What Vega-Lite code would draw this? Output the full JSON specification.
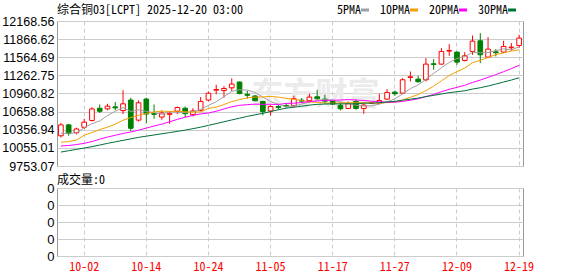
{
 "$schema": "https://vega.github.io/schema/vega-lite/v6.json",
 "background": "white",
 "padding": {"left": 1, "top": 3, "right": 0, "bottom": 0},
 "spacing": 0,
 "config": {
  "view": {"stroke": "#999999", "strokeWidth": 1},
  "axis": {"labelFont": "Liberation Sans", "labelFontSize": 12.5, "labelColor": "#000000", "ticks": false, "domain": false, "gridColor": "#cccccc", "gridWidth": 1, "labelPadding": 3, "labelOverlap": false},
  "title": {"font": "Noto Sans Mono CJK SC, DejaVu Sans Mono", "fontSize": 12, "fontWeight": "normal", "anchor": "start", "frame": "group", "color": "#000000"}
 },
 "datasets": {
  "k": [
   {"d":"09-29","o":10256.7,"h":10466.3,"l":10228.3,"c":10437.9,"5PMA":10297,"10PMA":10150,"20PMA":10085,"30PMA":9985,"vol":0},
   {"d":"09-30","o":10437.9,"h":10455.0,"l":10256.7,"c":10296.3,"5PMA":10300,"10PMA":10160,"20PMA":10095,"30PMA":10008,"vol":0},
   {"d":"10-01","o":10307.6,"h":10392.6,"l":10279.3,"c":10369.9,"5PMA":10305,"10PMA":10186,"20PMA":10110,"30PMA":10030,"vol":0},
   {"d":"10-02","o":10398.3,"h":10539.9,"l":10369.9,"c":10483.3,"5PMA":10390,"10PMA":10265,"20PMA":10130,"30PMA":10052,"vol":0},
   {"d":"10-03","o":10511.6,"h":10732.5,"l":10494.6,"c":10704.2,"5PMA":10458,"10PMA":10310,"20PMA":10160,"30PMA":10075,"vol":0},
   {"d":"10-06","o":10715.5,"h":10777.8,"l":10636.2,"c":10664.5,"5PMA":10504,"10PMA":10360,"20PMA":10200,"30PMA":10102,"vol":0},
   {"d":"10-07","o":10704.2,"h":10789.2,"l":10681.5,"c":10749.5,"5PMA":10594,"10PMA":10400,"20PMA":10235,"30PMA":10130,"vol":0},
   {"d":"10-08","o":10738.2,"h":10817.5,"l":10681.5,"c":10721.2,"5PMA":10665,"10PMA":10450,"20PMA":10265,"30PMA":10155,"vol":0},
   {"d":"10-09","o":10675.9,"h":11015.8,"l":10619.2,"c":10789.2,"5PMA":10726,"10PMA":10515,"20PMA":10295,"30PMA":10180,"vol":0},
   {"d":"10-10","o":10851.5,"h":10891.1,"l":10336.0,"c":10381.3,"5PMA":10661,"10PMA":10560,"20PMA":10320,"30PMA":10205,"vol":0},
   {"d":"10-13","o":10517.3,"h":10845.8,"l":10494.6,"c":10806.2,"5PMA":10689,"10PMA":10597,"20PMA":10350,"30PMA":10230,"vol":0},
   {"d":"10-14","o":10868.5,"h":10891.1,"l":10466.3,"c":10619.2,"5PMA":10663,"10PMA":10629,"20PMA":10385,"30PMA":10250,"vol":0},
   {"d":"10-15","o":10624.9,"h":10777.8,"l":10539.9,"c":10613.6,"5PMA":10642,"10PMA":10653,"20PMA":10420,"30PMA":10270,"vol":0},
   {"d":"10-16","o":10568.2,"h":10675.9,"l":10522.9,"c":10636.2,"5PMA":10611,"10PMA":10669,"20PMA":10450,"30PMA":10290,"vol":0},
   {"d":"10-17","o":10613.6,"h":10647.6,"l":10454.9,"c":10630.6,"5PMA":10661,"10PMA":10661,"20PMA":10490,"30PMA":10310,"vol":0},
   {"d":"10-20","o":10664.5,"h":10743.9,"l":10619.2,"c":10726.9,"5PMA":10645,"10PMA":10667,"20PMA":10530,"30PMA":10330,"vol":0},
   {"d":"10-21","o":10715.5,"h":10743.9,"l":10568.2,"c":10624.9,"5PMA":10646,"10PMA":10655,"20PMA":10565,"30PMA":10350,"vol":0},
   {"d":"10-22","o":10607.9,"h":10715.5,"l":10579.6,"c":10670.2,"5PMA":10658,"10PMA":10650,"20PMA":10595,"30PMA":10375,"vol":0},
   {"d":"10-23","o":10681.5,"h":10902.5,"l":10664.5,"c":10828.8,"5PMA":10696,"10PMA":10654,"20PMA":10620,"30PMA":10400,"vol":0},
   {"d":"10-24","o":10851.5,"h":10993.1,"l":10834.5,"c":10964.8,"5PMA":10763,"10PMA":10712,"20PMA":10636,"30PMA":10430,"vol":0},
   {"d":"10-27","o":11015.8,"h":11106.4,"l":10947.8,"c":11027.1,"5PMA":10823,"10PMA":10734,"20PMA":10665,"30PMA":10460,"vol":0},
   {"d":"10-28","o":11010.1,"h":11083.8,"l":10891.1,"c":11044.1,"5PMA":10907,"10PMA":10777,"20PMA":10703,"30PMA":10490,"vol":0},
   {"d":"10-29","o":11055.4,"h":11214.1,"l":11004.5,"c":11117.7,"5PMA":10997,"10PMA":10827,"20PMA":10740,"30PMA":10520,"vol":0},
   {"d":"10-30","o":11151.7,"h":11160.0,"l":10947.8,"c":10959.1,"5PMA":11023,"10PMA":10859,"20PMA":10764,"30PMA":10550,"vol":0},
   {"d":"10-31","o":10947.8,"h":11004.5,"l":10874.1,"c":10930.8,"5PMA":11016,"10PMA":10889,"20PMA":10775,"30PMA":10580,"vol":0},
   {"d":"11-03","o":10919.5,"h":10936.5,"l":10828.8,"c":10840.2,"5PMA":10978,"10PMA":10901,"20PMA":10784,"30PMA":10605,"vol":0},
   {"d":"11-04","o":10828.8,"h":10840.0,"l":10596.6,"c":10658.9,"5PMA":10901,"10PMA":10904,"20PMA":10780,"30PMA":10630,"vol":0},
   {"d":"11-05","o":10670.2,"h":10766.5,"l":10596.6,"c":10743.9,"5PMA":10827,"10PMA":10912,"20PMA":10781,"30PMA":10660,"vol":0},
   {"d":"11-06","o":10743.9,"h":10789.2,"l":10692.9,"c":10726.9,"5PMA":10780,"10PMA":10901,"20PMA":10778,"30PMA":10690,"vol":0},
   {"d":"11-07","o":10760.8,"h":10800.5,"l":10721.2,"c":10749.5,"5PMA":10744,"10PMA":10880,"20PMA":10796,"30PMA":10717,"vol":0},
   {"d":"11-10","o":10756.6,"h":10923.1,"l":10734.4,"c":10873.1,"5PMA":10751,"10PMA":10864,"20PMA":10799,"30PMA":10732,"vol":0},
   {"d":"11-11","o":10850.9,"h":10884.3,"l":10801.0,"c":10834.3,"5PMA":10786,"10PMA":10843,"20PMA":10810,"30PMA":10750,"vol":0},
   {"d":"11-12","o":10839.9,"h":10956.4,"l":10812.1,"c":10901.0,"5PMA":10817,"10PMA":10822,"20PMA":10825,"30PMA":10767,"vol":0},
   {"d":"11-13","o":10906.5,"h":11023.0,"l":10856.5,"c":10873.1,"5PMA":10846,"10PMA":10813,"20PMA":10836,"30PMA":10780,"vol":0},
   {"d":"11-14","o":10867.6,"h":10939.8,"l":10789.9,"c":10834.3,"5PMA":10863,"10PMA":10804,"20PMA":10847,"30PMA":10785,"vol":0},
   {"d":"11-17","o":10839.9,"h":10856.5,"l":10767.7,"c":10784.4,"5PMA":10845,"10PMA":10798,"20PMA":10849,"30PMA":10789,"vol":0},
   {"d":"11-18","o":10762.2,"h":10812.1,"l":10678.9,"c":10706.7,"5PMA":10820,"10PMA":10803,"20PMA":10853,"30PMA":10787,"vol":0},
   {"d":"11-19","o":10712.2,"h":10828.8,"l":10701.1,"c":10789.9,"5PMA":10798,"10PMA":10807,"20PMA":10859,"30PMA":10790,"vol":0},
   {"d":"11-20","o":10828.8,"h":10856.5,"l":10690.0,"c":10712.2,"5PMA":10766,"10PMA":10806,"20PMA":10854,"30PMA":10787,"vol":0},
   {"d":"11-21","o":10712.2,"h":10801.0,"l":10623.4,"c":10767.7,"5PMA":10752,"10PMA":10808,"20PMA":10844,"30PMA":10800,"vol":0},
   {"d":"11-24","o":10795.0,"h":10815.0,"l":10785.0,"c":10805.0,"5PMA":10756,"10PMA":10801,"20PMA":10833,"30PMA":10800,"vol":0},
   {"d":"11-25","o":10801.0,"h":10956.4,"l":10795.0,"c":10845.4,"5PMA":10784,"10PMA":10802,"20PMA":10823,"30PMA":10807,"vol":0},
   {"d":"11-26","o":10867.6,"h":11034.1,"l":10856.5,"c":10978.6,"5PMA":10822,"10PMA":10810,"20PMA":10816,"30PMA":10820,"vol":0},
   {"d":"11-27","o":10984.2,"h":11006.4,"l":10923.1,"c":10956.4,"5PMA":10871,"10PMA":10818,"20PMA":10816,"30PMA":10830,"vol":0},
   {"d":"11-28","o":10967.5,"h":11217.3,"l":10956.4,"c":11189.5,"5PMA":10955,"10PMA":10854,"20PMA":10829,"30PMA":10849,"vol":0},
   {"d":"12-01","o":11228.4,"h":11328.3,"l":11161.8,"c":11239.5,"5PMA":11042,"10PMA":10899,"20PMA":10849,"30PMA":10866,"vol":0},
   {"d":"12-02","o":11200.6,"h":11256.1,"l":11145.1,"c":11156.2,"5PMA":11104,"10PMA":10944,"20PMA":10873,"30PMA":10884,"vol":0},
   {"d":"12-03","o":11189.5,"h":11550.3,"l":11161.8,"c":11450.4,"5PMA":11198,"10PMA":11010,"20PMA":10909,"30PMA":10910,"vol":0},
   {"d":"12-04","o":11455.9,"h":11533.6,"l":11356.0,"c":11444.8,"5PMA":11296,"10PMA":11083,"20PMA":10945,"30PMA":10930,"vol":0},
   {"d":"12-05","o":11450.4,"h":11716.8,"l":11439.3,"c":11661.3,"5PMA":11390,"10PMA":11173,"20PMA":10990,"30PMA":10953,"vol":0},
   {"d":"12-08","o":11666.8,"h":11783.4,"l":11589.1,"c":11677.9,"5PMA":11478,"10PMA":11260,"20PMA":11030,"30PMA":10975,"vol":0},
   {"d":"12-09","o":11650.2,"h":11661.3,"l":11439.3,"c":11483.7,"5PMA":11544,"10PMA":11324,"20PMA":11063,"30PMA":10990,"vol":0},
   {"d":"12-10","o":11511.4,"h":11650.2,"l":11494.8,"c":11589.1,"5PMA":11571,"10PMA":11385,"20PMA":11097,"30PMA":11006,"vol":0},
   {"d":"12-11","o":11661.3,"h":11927.7,"l":11605.8,"c":11833.3,"5PMA":11649,"10PMA":11473,"20PMA":11145,"30PMA":11035,"vol":0},
   {"d":"12-12","o":11838.9,"h":11966.5,"l":11467.0,"c":11605.8,"5PMA":11638,"10PMA":11514,"20PMA":11184,"30PMA":11057,"vol":0},
   {"d":"12-15","o":11566.9,"h":11899.9,"l":11550.3,"c":11700.1,"5PMA":11642,"10PMA":11560,"20PMA":11230,"30PMA":11086,"vol":0},
   {"d":"12-16","o":11655.7,"h":11700.1,"l":11578.0,"c":11639.0,"5PMA":11674,"10PMA":11609,"20PMA":11276,"30PMA":11118,"vol":0},
   {"d":"12-17","o":11650.2,"h":11838.9,"l":11633.5,"c":11744.5,"5PMA":11705,"10PMA":11638,"20PMA":11324,"30PMA":11152,"vol":0},
   {"d":"12-18","o":11722.3,"h":11800.0,"l":11672.4,"c":11733.4,"5PMA":11685,"10PMA":11667,"20PMA":11375,"30PMA":11185,"vol":0},
   {"d":"12-19","o":11761.2,"h":11938.8,"l":11716.8,"c":11883.3,"5PMA":11740,"10PMA":11689,"20PMA":11431,"30PMA":11223,"vol":0}
  ]
 },
 "vconcat": [
  {
   "width": 466,
   "height": 145,
   "title": {"text": "综合铜03[LCPT] 2025-12-20 03:00", "offset": -2},
   "data": {"name": "k"},
   "encoding": {
    "x": {"field": "d", "type": "ordinal", "sort": "ascending", "title": null,
     "scale": {"type": "band", "paddingInner": 0, "paddingOuter": 0},
     "axis": {"values": ["10-02","10-14","10-24","11-05","11-17","11-27","12-09","12-19"], "labels": false, "grid": true, "gridDash": [4,3], "bandPosition": 0.5, "tickCount": 100}}
   },
   "layer": [
    {
     "transform": [{"filter": "datum.d == '11-12'"}],
     "mark": {"type": "text", "text": "东方财富", "font": "Noto Sans CJK SC", "fontSize": 32, "fontWeight": "bold", "color": "#ebebeb", "align": "center", "baseline": "middle", "dx": 6},
     "encoding": {
      "y": {"datum": 10930, "type": "quantitative", "title": null,
       "scale": {"domain": [9753.07, 12168.56], "nice": false, "zero": false}}
     }
    },
    {
     "mark": {"type": "rule", "strokeWidth": 1},
     "encoding": {
      "y": {"field": "l", "type": "quantitative", "title": null,
       "scale": {"domain": [9753.07, 12168.56], "nice": false, "zero": false},
       "axis": {"values": [9753.07, 10055.01, 10356.94, 10658.88, 10960.82, 11262.75, 11564.69, 11866.62, 12168.56], "tickCount": 100, "format": ".2f", "grid": true, "labelFlush": false, "labelBaseline": "middle", "labelOverlap": false}},
      "y2": {"field": "h"},
      "color": {"condition": {"test": "datum.c >= datum.o", "value": "#ff0000"}, "value": "#008000"}
     }
    },
    {
     "mark": {"type": "bar", "width": {"band": 0.6}, "strokeWidth": 1},
     "encoding": {
      "y": {"field": "o", "type": "quantitative", "title": null, "scale": {"domain": [9753.07, 12168.56], "nice": false, "zero": false}},
      "y2": {"field": "c"},
      "fill": {"condition": {"test": "datum.c >= datum.o", "value": "#ffffff"}, "value": "#008000"},
      "stroke": {"condition": {"test": "datum.c >= datum.o", "value": "#ff0000"}, "value": "#008000"}
     }
    },
    {
     "transform": [{"fold": ["5PMA", "10PMA", "20PMA", "30PMA"], "as": ["s", "v"]}],
     "mark": {"type": "line", "strokeWidth": 1},
     "encoding": {
      "y": {"field": "v", "type": "quantitative", "title": null, "scale": {"domain": [9753.07, 12168.56], "nice": false, "zero": false}},
      "color": {"field": "s", "type": "nominal",
       "scale": {"domain": ["5PMA", "10PMA", "20PMA", "30PMA"], "range": ["#a0a0a0", "#f5a000", "#ff00ff", "#00703a"]},
       "legend": {"orient": "none", "legendX": 302, "legendY": -17, "direction": "horizontal", "title": null,
        "symbolType": "stroke", "symbolStrokeWidth": 3, "symbolSize": 64,
        "labelFont": "Noto Sans Mono CJK SC, DejaVu Sans Mono", "labelFontSize": 12, "labelColor": "#000000",
        "labelAlign": "right", "labelOffset": -10, "columnPadding": 4}}
     }
    }
   ]
  },
  {
   "width": 466,
   "height": 68,
   "title": {"text": "成交量:0", "offset": -5},
   "data": {"name": "k"},
   "mark": {"type": "bar", "width": {"band": 0.6}, "color": "#008000"},
   "encoding": {
    "x": {"field": "d", "type": "ordinal", "sort": "ascending", "title": null,
     "scale": {"type": "band", "paddingInner": 0, "paddingOuter": 0},
     "axis": {"values": ["10-02","10-14","10-24","11-05","11-17","11-27","12-09","12-19"], "tickCount": 100, "grid": true, "gridDash": [4,3], "bandPosition": 0.5, "labelAngle": 0, "labelColor": "#ff0000", "labelFont": "Noto Sans Mono CJK SC, DejaVu Sans Mono", "labelFontSize": 12, "labelPadding": 5}},
    "y": {"field": "vol", "type": "quantitative", "title": null,
     "scale": {"domain": [0, 4], "nice": false},
     "axis": {"values": [0, 1, 2, 3, 4], "tickCount": 100, "labelExpr": "'0'", "grid": true, "labelFlush": false, "labelBaseline": "middle", "labelFontSize": 13, "labelOverlap": false}}
   }
  }
 ]
}
